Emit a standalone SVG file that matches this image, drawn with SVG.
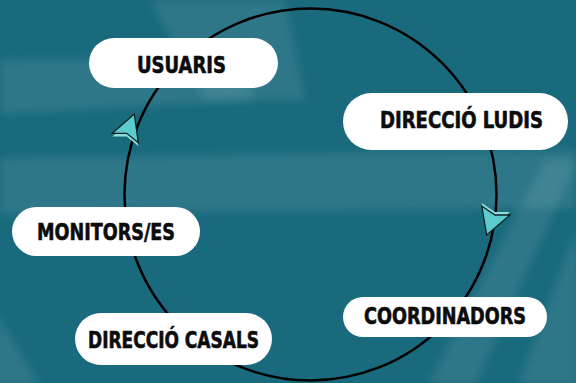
<svg xmlns="http://www.w3.org/2000/svg" width="576" height="383" viewBox="0 0 576 383">
  <defs>
    <filter id="soft" x="-20%" y="-20%" width="140%" height="140%">
      <feGaussianBlur stdDeviation="5"/>
    </filter>
    <style>
      .stripe { fill: #ffffff; opacity: 0.09; filter: url(#soft); }
      .pill { fill: #ffffff; }
      .label { font-family: "DejaVu Sans Condensed", "Liberation Sans", sans-serif; font-weight: bold; font-size: 23px; fill: #0c0c0c; stroke: #0c0c0c; stroke-width: 0.6; }
      .ring { fill: none; stroke: #000000; stroke-width: 2.5; }
      .arrow { fill: #5ccbcb; stroke: #0d2227; stroke-width: 1.3; stroke-linejoin: miter; }
      .arrow-shadow { fill: #8fdedb; }
    </style>
  </defs>

  <g id="background">
    <rect x="0" y="0" width="576" height="383" fill="#196a7d"/>
    <polygon class="stripe" points="0,60 235,57 255,100 0,114"/>
    <polygon class="stripe" points="150,0 285,0 305,100 205,100"/>
    <polygon class="stripe" points="0,158 576,150 576,208 0,214"/>
    <polygon class="stripe" points="545,160 578,160 475,385 428,385"/>
    <polygon class="stripe" points="578,225 578,385 518,385"/>
    <polygon class="stripe" points="-5,312 40,385 -5,385"/>
  </g>

  <g id="connectors">
    <circle class="ring" cx="310.5" cy="194.5" r="186"/>
    <g id="arrow-left">
      <polygon class="arrow-shadow" points="134.3,117 112.3,136.5 126.7,136.5 138.3,146"/>
      <polygon class="arrow" points="134.3,114 112.3,133.3 126.7,133.3 138.3,142.7"/>
    </g>
    <g id="arrow-right">
      <polygon class="arrow-shadow" points="481.7,203 495,212 510,212 486.7,232"/>
      <polygon class="arrow" points="481.7,206 495,215 510,215 486.7,235"/>
    </g>
  </g>

  <g id="node-usuaris">
    <rect class="pill" x="89" y="38" width="189" height="50" rx="25"/>
    <text class="label" x="137" y="73" textLength="89" lengthAdjust="spacingAndGlyphs">USUARIS</text>
  </g>
  <g id="node-direccio-ludis">
    <rect class="pill" x="343" y="93" width="225" height="57" rx="28.5"/>
    <text class="label" x="380" y="128" textLength="163" lengthAdjust="spacingAndGlyphs">DIRECCIÓ LUDIS</text>
  </g>
  <g id="node-coordinadors">
    <rect class="pill" x="343" y="297" width="204" height="40" rx="20"/>
    <text class="label" x="364" y="324" textLength="162" lengthAdjust="spacingAndGlyphs">COORDINADORS</text>
  </g>
  <g id="node-direccio-casals">
    <rect class="pill" x="75" y="313" width="197" height="52" rx="26"/>
    <text class="label" x="88" y="348" textLength="171" lengthAdjust="spacingAndGlyphs">DIRECCIÓ CASALS</text>
  </g>
  <g id="node-monitors">
    <rect class="pill" x="12" y="207" width="188" height="49" rx="24.5"/>
    <text class="label" x="37" y="240" textLength="138" lengthAdjust="spacingAndGlyphs">MONITORS/ES</text>
  </g>
</svg>
